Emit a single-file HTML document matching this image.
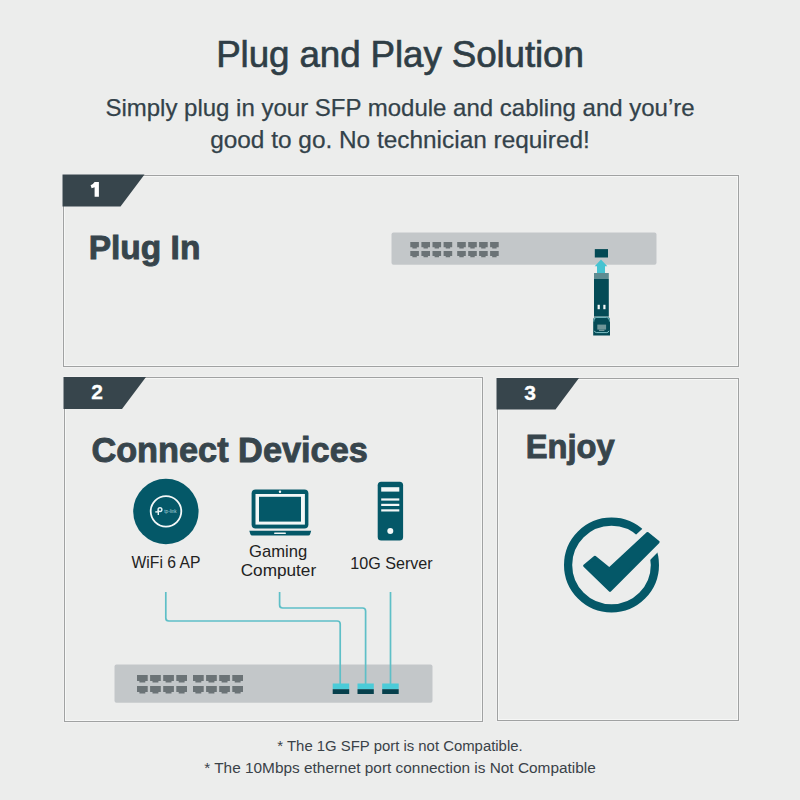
<!DOCTYPE html>
<html>
<head>
<meta charset="utf-8">
<style>
html,body{margin:0;padding:0;}
body{width:800px;height:800px;overflow:hidden;background:#ECEDEC;position:relative;font-family:"Liberation Sans",sans-serif;}
.t{position:absolute;white-space:nowrap;line-height:1;}
.c{text-align:center;}
.box{position:absolute;border:1px solid #A0A2A2;box-sizing:border-box;box-shadow:inset 0 0 0 1px rgba(255,255,255,0.55),0 0 0 1px rgba(255,255,255,0.25);}
svg{position:absolute;left:0;top:0;}
</style>
</head>
<body>
<!-- title + subtitle -->
<div class="t c" style="left:0;width:800px;top:37.1px;font-size:36.8px;letter-spacing:-0.12px;color:#2F3E46;-webkit-text-stroke:0.65px #2F3E46;">Plug and Play Solution</div>
<div class="t c" style="left:0;width:800px;top:95.9px;font-size:24px;color:#33424A;-webkit-text-stroke:0.25px #33424A;">Simply plug in your SFP module and cabling and you’re</div>
<div class="t c" style="left:0;width:800px;top:127.5px;font-size:24.4px;color:#33424A;-webkit-text-stroke:0.25px #33424A;">good to go. No technician required!</div>

<!-- boxes -->
<div class="box" style="left:63px;top:175px;width:676px;height:192px;"></div>
<div class="box" style="left:64px;top:377px;width:419px;height:345px;"></div>
<div class="box" style="left:497px;top:378px;width:242px;height:343px;"></div>

<svg width="800" height="800" viewBox="0 0 800 800">
  <defs>
    <path id="pa" d="M0,0h8.6v5.1h-2.1v1.2h-4.4v-1.2h-2.1z"/>
    <path id="pb" d="M0,0h10.7v5.9h-2.4v1.5h-5.9v-1.5h-2.4z"/>
  </defs>
  <!-- tabs -->
  <polygon points="62.5,174.5 144.5,174.5 120.5,206.5 62.5,206.5" fill="#37454C"/>
  <polygon points="63.5,377 146,377 122,409 63.5,409" fill="#37454C"/>
  <polygon points="496.5,378 579,378 555.5,409.5 496.5,409.5" fill="#37454C"/>

  <path d="M94.6,182 H98.9 V196.8 H94.6 V187.2 Q93.2,187.9 91.6,188.2 L90.6,185.2 Q93.2,184.3 94.6,182 Z" fill="#FFFFFF"/>
  <!-- switch 1 -->
  <rect x="391.5" y="232.5" width="265" height="32.3" rx="2" fill="#C3C7C9"/>
  <g fill="#6B7376"><use href="#pa" x="410.3" y="242.1"/><use href="#pa" x="421.4" y="242.1"/><use href="#pa" x="432.5" y="242.1"/><use href="#pa" x="443.6" y="242.1"/><use href="#pa" x="457.2" y="242.1"/><use href="#pa" x="468.2" y="242.1"/><use href="#pa" x="479.1" y="242.1"/><use href="#pa" x="490.1" y="242.1"/><use href="#pa" x="410.3" y="251.0"/><use href="#pa" x="421.4" y="251.0"/><use href="#pa" x="432.5" y="251.0"/><use href="#pa" x="443.6" y="251.0"/><use href="#pa" x="457.2" y="251.0"/><use href="#pa" x="468.2" y="251.0"/><use href="#pa" x="479.1" y="251.0"/><use href="#pa" x="490.1" y="251.0"/></g>
  <!-- SFP slot + arrow + module -->
  <rect x="594.8" y="249.1" width="13.2" height="8.4" fill="#044A55"/>
  <path d="M601,259.6 L607.3,266.3 H605 V273.2 H597 V266.3 H594.7 Z" fill="#45C3D1"/>
  <rect x="594" y="273" width="14.8" height="6" fill="#5E8C92"/>
  <rect x="594" y="279" width="14.8" height="37.6" fill="#044B56"/>
  <rect x="597.6" y="304.8" width="2.2" height="4.4" fill="#F4F8F8"/>
  <rect x="603.3" y="304.8" width="2.2" height="4.4" fill="#F4F8F8"/>
  <path d="M593.2,320 Q593.2,317 596.2,317 H607 Q610,317 610,320 V335.6 H593.2 Z" fill="#044B56"/>
  <path d="M593.9,321.5 V320.3 Q593.9,317.4 596.8,317.4 H606.5 Q609.4,317.4 609.4,320.3 V321.5" stroke="#8ACDD3" stroke-width="0.9" fill="none"/>
  <rect x="597.3" y="324.6" width="8.8" height="5" fill="#6E9598"/>
  <rect x="599" y="329.6" width="5.4" height="1.4" fill="#6E9598"/>
  <path d="M594.3,330.8 Q595,332.6 596.5,332.6 H606.8 Q608.3,332.6 609,330.8" stroke="#8FD0D6" stroke-width="0.9" fill="none"/>

  <!-- switch 2 -->
  <rect x="114.5" y="664.5" width="318" height="38.2" rx="2" fill="#C3C7C9"/>
  <g fill="#6B7376"><use href="#pb" x="137.0" y="675.0"/><use href="#pb" x="150.1" y="675.0"/><use href="#pb" x="163.2" y="675.0"/><use href="#pb" x="176.3" y="675.0"/><use href="#pb" x="193.0" y="675.0"/><use href="#pb" x="206.1" y="675.0"/><use href="#pb" x="219.2" y="675.0"/><use href="#pb" x="232.3" y="675.0"/><use href="#pb" x="137.0" y="686.0"/><use href="#pb" x="150.1" y="686.0"/><use href="#pb" x="163.2" y="686.0"/><use href="#pb" x="176.3" y="686.0"/><use href="#pb" x="193.0" y="686.0"/><use href="#pb" x="206.1" y="686.0"/><use href="#pb" x="219.2" y="686.0"/><use href="#pb" x="232.3" y="686.0"/></g>
  <!-- cables -->
  <g stroke="#5EBFC7" stroke-width="1.7" fill="none">
    <path d="M165.8,592 V618 Q165.8,621 168.8,621 H337.2 Q340.2,621 340.2,624 V684"/>
    <path d="M279.6,592 V605 Q279.6,608 282.6,608 H362.6 Q365.6,608 365.6,611 V684"/>
    <path d="M390.5,592 V684"/>
  </g>
  <!-- sfp ports on switch 2 -->
  <g fill="#4BCBD8">
    <rect x="332.7" y="683.5" width="16.5" height="5.8"/>
    <rect x="357.5" y="683.5" width="16.3" height="5.8"/>
    <rect x="382.2" y="683.5" width="16.5" height="5.8"/>
  </g>
  <g fill="#06404C">
    <rect x="332.7" y="689.2" width="16.5" height="4.8"/>
    <rect x="357.5" y="689.2" width="16.3" height="4.8"/>
    <rect x="382.2" y="689.2" width="16.5" height="4.8"/>
  </g>

  <!-- AP -->
  <circle cx="165.9" cy="511.5" r="32.7" fill="#045868"/>
  <circle cx="166" cy="511.35" r="15.3" fill="none" stroke="#F4F8F8" stroke-width="1.8"/>
  <g fill="none" stroke="#E6F2F4" stroke-width="1.4">
    <circle cx="160" cy="509.6" r="1.9"/>
    <path d="M158.3,510 V515"/>
    <path d="M155.3,511.9 H159"/>
  </g>
  <text x="164.3" y="513.2" font-family="Liberation Sans" font-size="4.6" fill="#A9D7DF">tp-link</text>

  <!-- laptop -->
  <rect x="251.6" y="489.6" width="56.8" height="39" rx="4" fill="#045868"/>
  <rect x="255.5" y="494" width="49.4" height="30.6" fill="#F3F7F7"/>
  <rect x="259" y="496.8" width="42" height="24.8" fill="#045868"/>
  <circle cx="280" cy="491.8" r="1.2" fill="#F3F7F7"/>
  <path d="M249.3,530.8 H311.2 L310.2,534 Q309.8,535.6 308.2,535.6 H252.3 Q250.7,535.6 250.3,534 Z" fill="#045868"/>
  <rect x="274" y="532.4" width="12" height="1.6" rx="0.8" fill="#F3F7F7"/>

  <!-- server -->
  <rect x="377.7" y="481.8" width="25.4" height="58.8" rx="3.5" fill="#045868"/>
  <g fill="#F3F7F7">
    <rect x="381.2" y="487.2" width="18.1" height="4.4"/>
    <rect x="381.2" y="498.4" width="18.1" height="2.2"/>
    <rect x="381.2" y="503.8" width="18.1" height="2.2"/>
    <rect x="381.2" y="509.3" width="18.1" height="2.2"/>
    <circle cx="390.3" cy="531" r="3"/>
  </g>

  <!-- check icon -->
  <circle cx="611.5" cy="565" r="43.4" fill="none" stroke="#045868" stroke-width="8.2"/>
  <polygon points="582.5,565.7 594.9,555.4 609.3,567.1 647.5,531.6 660.3,541.9 610,592.5" fill="none" stroke="#ECEDEC" stroke-width="11" stroke-linejoin="round"/>
  <polygon points="584.44,565.78 594.91,557.08 609.36,568.82 647.56,533.32 658.36,542.01 609.99,590.67" fill="#045868" stroke="#045868" stroke-width="2.6" stroke-linejoin="round"/>
</svg>

<!-- section headings -->
<div class="t" style="left:88.7px;top:230.6px;font-size:33.5px;font-weight:bold;color:#37454C;-webkit-text-stroke:0.9px #37454C;">Plug In</div>
<div class="t" style="left:91.4px;top:433.0px;font-size:34.3px;font-weight:bold;color:#37454C;-webkit-text-stroke:0.9px #37454C;">Connect Devices</div>
<div class="t" style="left:525.7px;top:431.3px;font-size:32.7px;font-weight:bold;color:#37454C;-webkit-text-stroke:0.9px #37454C;">Enjoy</div>

<!-- tab numbers -->
<div class="t c" style="left:77.2px;width:40px;top:380.6px;font-size:21px;font-weight:bold;color:#fff;-webkit-text-stroke:0.3px #fff;">2</div>
<div class="t c" style="left:510.2px;width:40px;top:381.6px;font-size:21px;font-weight:bold;color:#fff;-webkit-text-stroke:0.3px #fff;">3</div>

<!-- device labels -->
<div class="t c" style="left:116px;width:100px;top:555.1px;font-size:15.7px;color:#222;">WiFi 6 AP</div>
<div class="t c" style="left:228.1px;width:100px;top:543.9px;font-size:16.6px;color:#222;">Gaming</div>
<div class="t c" style="left:228.4px;width:100px;top:561.7px;font-size:17.2px;color:#222;">Computer</div>
<div class="t c" style="left:341.5px;width:100px;top:554.9px;font-size:16.1px;color:#222;">10G Server</div>

<!-- footnotes -->
<div class="t c" style="left:0;width:800px;top:739px;font-size:14.9px;color:#3A4248;">* The 1G SFP port is not Compatible.</div>
<div class="t c" style="left:0;width:800px;top:759.7px;font-size:15.4px;color:#3A4248;">* The 10Mbps ethernet port connection is Not Compatible</div>
</body>
</html>
